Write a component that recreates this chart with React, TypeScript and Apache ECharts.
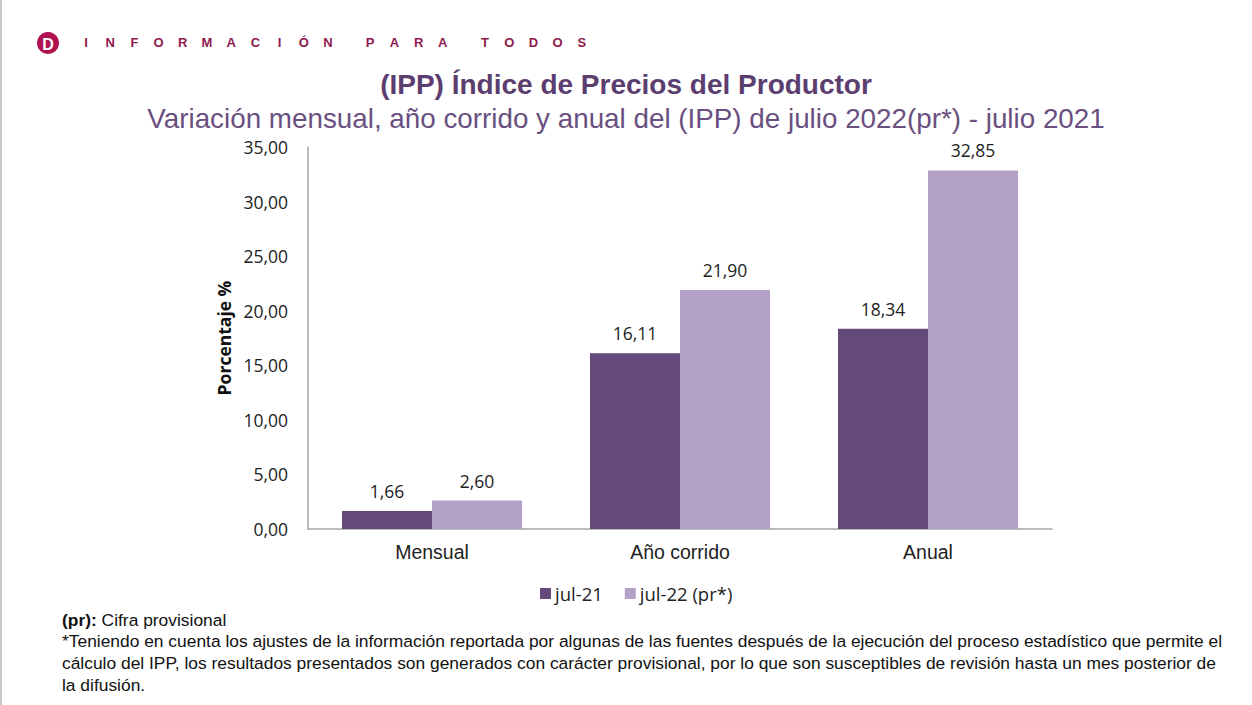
import React, { useEffect, useRef } from "react";
import * as echarts from "echarts";

const categories = ["Mensual", "Año corrido", "Anual"];
const seriesNames = ["jul-21", "jul-22 (pr*)"];
const jul21 = [1.66, 16.11, 18.34];
const jul22 = [2.6, 21.9, 32.85];
const yTicks = { min: 0, max: 35, interval: 5 };

const title = "(IPP) Índice de Precios del Productor";
const subtitle = "Variación mensual, año corrido y anual del (IPP) de julio 2022(pr*) - julio 2021";
const header = "INFORMACIÓN PARA TODOS";
const noteLines = [
  "*Teniendo en cuenta los ajustes de la información reportada por algunas de las fuentes después de la ejecución del proceso estadístico que permite el",
  "cálculo del IPP, los resultados presentados son generados con carácter provisional, por lo que son susceptibles de revisión hasta un mes posterior de",
  "la difusión.",
];

const DARK = "#634a7b";
const LIGHT = "#b4a1c8";

export default function App() {
  const ref = useRef<HTMLDivElement>(null);
  useEffect(() => {
    if (!ref.current) return;
    const chart = echarts.init(ref.current, undefined, { renderer: "svg" });
    const fmt = (v: number) => v.toFixed(2).replace(".", ",");
    const headerEls: any[] = [];
    let hx = 86;
    for (const ch of header) {
      if (ch !== " ") {
        headerEls.push({
          type: "text",
          x: hx,
          y: 42,
          style: {
            text: ch,
            fill: "#8e1a4e",
            font: "bold 13px 'Liberation Sans', Arial, sans-serif",
            align: "center",
            verticalAlign: "middle",
          },
        });
        hx += 24.2;
      } else {
        hx += 18;
      }
    }
    const labelStyle = {
      show: true,
      position: "top",
      distance: 11,
      color: "#222",
      fontSize: 17.5,
      fontFamily: "'Open Sans', sans-serif",
      formatter: (p: any) => fmt(p.value),
    };
    const font = "'Liberation Sans', Arial, sans-serif";
    const option: any = {
      animation: false,
      backgroundColor: "#ffffff",
      textStyle: { fontFamily: "'Open Sans', sans-serif" },
      grid: { left: 308, right: 200, top: 147, bottom: 176, containLabel: false },
      xAxis: {
        type: "category",
        data: categories,
        axisLine: { lineStyle: { color: "#a6a6a6", width: 1.5 } },
        axisTick: { show: false },
        axisLabel: {
          color: "#222",
          fontSize: 19.5,
          fontFamily: font,
          margin: 13,
        },
      },
      yAxis: {
        type: "value",
        min: yTicks.min,
        max: yTicks.max,
        interval: yTicks.interval,
        name: "Porcentaje %",
        nameLocation: "middle",
        nameGap: 75,
        nameTextStyle: { color: "#111", fontSize: 17.5, fontWeight: "bold", fontFamily: "'Open Sans', sans-serif" },
        axisLine: { show: true, lineStyle: { color: "#a6a6a6", width: 1.5 } },
        axisTick: { show: false },
        splitLine: { show: false },
        axisLabel: {
          color: "#222",
          fontSize: 17.5,
          margin: 20,
          fontFamily: "'Open Sans', sans-serif",
          formatter: (v: number) => fmt(v),
        },
      },
      legend: {
        data: seriesNames,
        top: 579,
        left: 535,
        itemWidth: 11,
        itemHeight: 11,
        itemGap: 22,
        icon: "rect",
        textStyle: { color: "#222", fontSize: 18.5, fontFamily: "'Open Sans', sans-serif", padding: [0, 0, 0, -1] },
      },
      series: [
        {
          name: seriesNames[0],
          type: "bar",
          data: jul21,
          barGap: "0%",
          barCategoryGap: "27.4%",
          itemStyle: { color: DARK },
          label: labelStyle,
        },
        {
          name: seriesNames[1],
          type: "bar",
          data: jul22,
          barGap: "0%",
          barCategoryGap: "27.4%",
          itemStyle: { color: LIGHT },
          label: labelStyle,
        },
      ],
      graphic: [
        { type: "rect", shape: { x: 0, y: 0, width: 2, height: 705 }, style: { fill: "#c8c8c8" } },
        { type: "circle", shape: { cx: 48, cy: 43, r: 11 }, style: { fill: "#b0124f" } },
        {
          type: "text",
          x: 48,
          y: 44,
          style: { text: "D", fill: "#ffffff", font: `bold 16px ${font}`, align: "center", verticalAlign: "middle" },
        },
        ...headerEls,
        {
          type: "text",
          left: "center",
          top: 70,
          style: { text: title, fill: "#5b3e6f", font: `bold 28px ${font}` },
        },
        {
          type: "text",
          left: "center",
          top: 104,
          style: { text: subtitle, fill: "#6a5080", font: `27.8px ${font}` },
        },
        {
          type: "text",
          left: 62,
          top: 611,
          style: {
            text: "{b|(pr):} Cifra provisional",
            fill: "#111",
            font: `17.4px ${font}`,
            rich: { b: { fontWeight: "bold", fontSize: 17.4, fontFamily: font, fill: "#111" } },
          },
        },
        ...noteLines.map((t, i) => ({
          type: "text",
          left: 62,
          top: 632 + i * 22,
          style: { text: t, fill: "#111", font: `17.4px ${font}` },
        })),
      ],
    };
    chart.setOption(option);
    return () => chart.dispose();
  }, []);
  return <div ref={ref} style={{ width: 1252, height: 705, position: "absolute", left: 0, top: 0 }} />;
}
